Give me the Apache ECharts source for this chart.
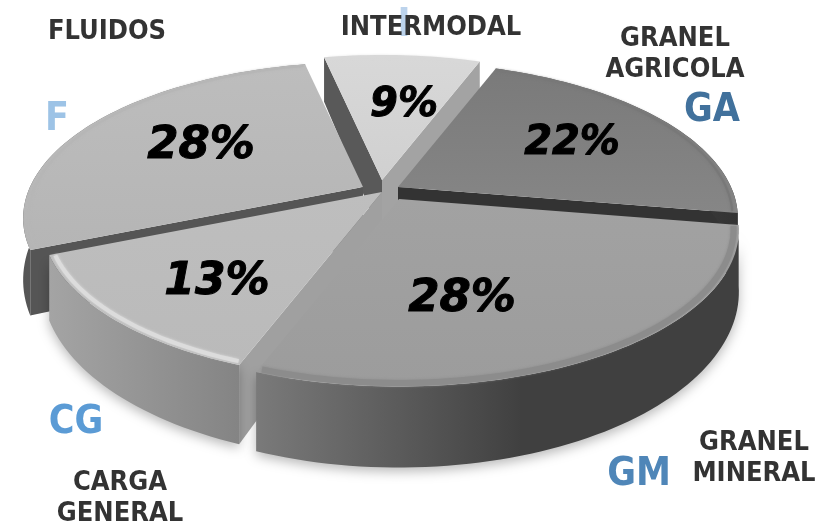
<!DOCTYPE html>
<html>
<head>
<meta charset="utf-8">
<style>html,body{margin:0;padding:0;background:#fff}#chart{width:817px;height:524px}</style>
<script src="https://cdn.jsdelivr.net/npm/echarts@6/dist/echarts.min.js"></script>
</head>
<body>
<div id="chart"></div>
<script>
// clockwise from the top slice
var codes = ['I', 'GA', 'GM', 'CG', 'F'];
var categories = ['INTERMODAL', 'GRANEL\nAGRICOLA', 'GRANEL\nMINERAL', 'CARGA\nGENERAL', 'FLUIDOS'];
var values = [9, 22, 28, 13, 28];

var startAngle = -102;
var paintOrder = [0, 1, 4, 3, 2];

// tip of each pulled-out slice, on the page
var tips = [[382, 180], [398, 187], [399, 199], [382, 192], [363, 187]];
var percentAnchors = [[404, 106], [572, 144], [462, 299], [217, 283], [201, 146]];
var percentSizes = [40, 40, 45, 44, 45];
var titleAnchors = [[431, 28], [675, 54], [754, 458], [120, 498], [107, 32]];
var codeAnchors = [[404, 26], [712, 111], [639, 475], [76, 423], [57, 120]];
var codeColors = ['#bcd3ec', '#41719c', '#4f86b8', '#5b9bd5', '#9dc3e6'];

var radius = 333, flatten = 150, persp = 0.2, depth = 58;

var topFill = [
  ['#d8d8d8', '#d0d0d0'], ['#7a7a7a', '#868686'], ['#a2a2a2', '#9c9c9c'],
  ['#bebebe', '#bababa'], ['#bdbdbd', '#b5b5b5']
];
var rimColor = ['#d8d8d8', '#787878', '#8c8c8c', '#dcdcdc', '#b6b6b6'];
var rimWidth = [2, 2, 6, 4, 2];
// outer wall colours, null when the wall is hidden
var wallStops = [
  null, ['#555', '#333'], ['#7a7a7a', '#404040'],
  ['#a4a4a4', '#848484'], ['#555', '#777']
];
var wallShadow = [false, false, true, true, false];
// radial end walls: [wall at first angle, wall at last angle], null when it does not show
var endWalls = [
  ['#595959', '#a3a3a3'], [null, '#333333'], [null, null],
  ['#a0a0a0', null], ['#555555', null]
];

function project(tip, a, r) {
  var rad = a * Math.PI / 180;
  var u = r * Math.cos(rad), v = r * Math.sin(rad);
  var s = 1 / (1 - persp * v);
  return [tip[0] + radius * u * s, tip[1] + flatten * v * s, depth * Math.pow(s, 1.5)];
}

function arcPoints(tip, a0, a1, r) {
  var pts = [], n = Math.max(8, Math.round((a1 - a0) / 1.5));
  for (var i = 0; i <= n; i++) pts.push(project(tip, a0 + (a1 - a0) * i / n, r));
  return pts;
}

var total = values.reduce(function (s, v) { return s + v; }, 0);
var angles = [], cursor = startAngle;
values.forEach(function (v) {
  var next = cursor + v / total * 360;
  angles.push([cursor, next]);
  cursor = next;
});

function renderSlice(params, api) {
  var i = api.value(0), tip = tips[i], a0 = angles[i][0], a1 = angles[i][1];
  var arc = arcPoints(tip, a0, a1, 1);
  var children = [];
  var tipBottom = [tip[0], tip[1] + depth];

  // radial end walls
  [[a0, 0], [a1, 1]].forEach(function (w) {
    var color = endWalls[i][w[1]];
    if (!color) return;
    var p = project(tip, w[0], 1);
    children.push({
      type: 'polygon',
      shape: { points: [tip, [p[0], p[1]], [p[0], p[1] + p[2]], tipBottom] },
      style: { fill: color }
    });
  });

  // outer wall
  if (wallStops[i]) {
    var wall = arc.map(function (p) { return [p[0], p[1]]; });
    arc.slice().reverse().forEach(function (p) { wall.push([p[0], p[1] + p[2]]); });
    children.push({
      type: 'polygon',
      shape: { points: wall },
      style: {
        fill: new echarts.graphic.LinearGradient(0, 0, 1, 0, [
          { offset: 0, color: wallStops[i][0] },
          { offset: i === 2 ? 0.55 : 1, color: wallStops[i][1] },
          { offset: 1, color: wallStops[i][1] }
        ]),
        shadowBlur: wallShadow[i] ? 12 : 0,
        shadowColor: 'rgba(0,0,0,0.28)',
        shadowOffsetY: wallShadow[i] ? 4 : 0
      }
    });
  }

  // top face
  var face = [tip].concat(arc.map(function (p) { return [p[0], p[1]]; }));
  children.push({
    type: 'polygon',
    shape: { points: face },
    style: {
      fill: new echarts.graphic.LinearGradient(0, 0, 0, 1, [
        { offset: 0, color: topFill[i][0] },
        { offset: 1, color: topFill[i][1] }
      ])
    }
  });

  // bevel along the rim
  children.push({
    type: 'polyline',
    shape: { points: arcPoints(tip, a0 + 0.5, a1 - 0.5, 0.985).map(function (p) { return [p[0], p[1]]; }) },
    style: { stroke: rimColor[i], lineWidth: rimWidth[i], fill: null, shadowBlur: 3, shadowColor: rimColor[i] }
  });

  return { type: 'group', children: children };
}

var chart = echarts.init(document.getElementById('chart'), null, { renderer: 'canvas' });

var texts = [];
categories.forEach(function (name, i) {
  texts.push({
    type: 'text', z: 20, x: codeAnchors[i][0], y: codeAnchors[i][1],
    style: {
      text: codes[i], fill: codeColors[i], align: 'center', verticalAlign: 'middle',
      font: 'bold 39px "DejaVu Sans Condensed"'
    }
  });
  texts.push({
    type: 'text', z: 21, x: titleAnchors[i][0], y: titleAnchors[i][1],
    style: {
      text: name, fill: '#333333', align: 'center', verticalAlign: 'middle',
      lineHeight: 31, font: 'bold 27px "DejaVu Sans Condensed"'
    }
  });
  texts.push({
    type: 'text', z: 22, x: percentAnchors[i][0], y: percentAnchors[i][1],
    style: {
      text: values[i] + '%', fill: '#000000', stroke: '#000000', lineWidth: 1,
      align: 'center', verticalAlign: 'middle',
      font: 'italic bold ' + percentSizes[i] + 'px "DejaVu Sans"',
      shadowBlur: 5, shadowColor: 'rgba(0,0,0,0.35)', shadowOffsetY: 2
    }
  });
});

chart.setOption({
  animation: false,
  backgroundColor: '#ffffff',
  graphic: { elements: texts },
  series: [{
    type: 'custom',
    coordinateSystem: 'none',
    renderItem: renderSlice,
    silent: true,
    data: paintOrder.map(function (i) { return [i, values[i]]; })
  }]
});
</script>
</body>
</html>
